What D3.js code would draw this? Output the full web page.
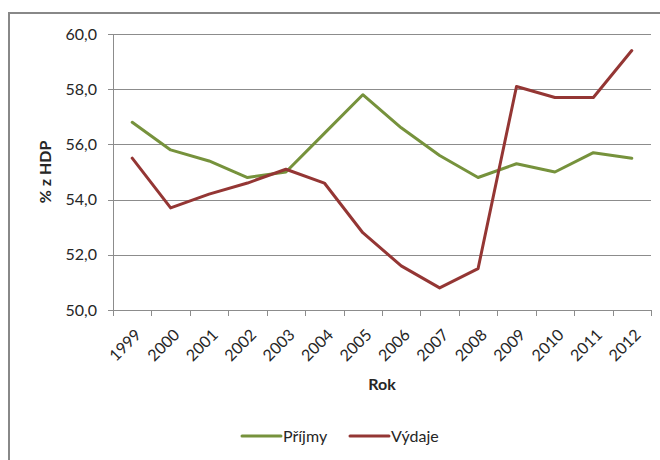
<!DOCTYPE html>
<html>
<head>
<meta charset="utf-8">
<script src="https://cdn.jsdelivr.net/npm/d3@7"></script>
<style>
  body { margin: 0; background: #fff; }
  svg { display: block; font-family: Lato, "Open Sans", sans-serif; }
</style>
</head>
<body>
<svg id="chart" width="660" height="460"></svg>
<script>
// --- Data ---
const years = ["1999", "2000", "2001", "2002", "2003", "2004", "2005", "2006", "2007", "2008", "2009", "2010", "2011", "2012"];
const prijmy = [56.8, 55.8, 55.4, 54.8, 55.0, 56.4, 57.8, 56.6, 55.6, 54.8, 55.3, 55.0, 55.7, 55.5];
const vydaje = [55.5, 53.7, 54.2, 54.6, 55.1, 54.6, 52.8, 51.6, 50.8, 51.5, 58.1, 57.7, 57.7, 59.4];
const yTicks = [50, 52, 54, 56, 58, 60];

const series = [
  { name: "Příjmy", values: prijmy, color: "#76923C" },
  { name: "Výdaje", values: vydaje, color: "#943634" }
];

// --- Setup SVG ---
const svg = d3.select("#chart");
const textColor = "#262626";
const gridColor = "#8c8c8c";

// chart border (right/bottom edges fall outside the picture)
svg.append("rect")
  .attr("x", 9).attr("y", 13)
  .attr("width", 700).attr("height", 500)
  .attr("fill", "none")
  .attr("stroke", "#888")
  .attr("stroke-width", 2);

const plot = { left: 113, right: 651, top: 34, bottom: 310 };

// --- Scales ---
const x = d3.scaleBand()
  .domain(years)
  .range([plot.left, plot.right])
  .padding(0);

const y = d3.scaleLinear()
  .domain([50, 60])
  .range([plot.bottom, plot.top]);

const fmt = v => d3.format(".1f")(v).replace(".", ",");

// --- Gridlines ---
svg.append("g")
  .selectAll("line")
  .data(yTicks)
  .join("line")
  .attr("x1", plot.left - 5)
  .attr("x2", plot.right)
  .attr("y1", d => Math.round(y(d)) + 0.5)
  .attr("y2", d => Math.round(y(d)) + 0.5)
  .attr("stroke", gridColor)
  .attr("stroke-width", 1);

// --- Y axis ---
svg.append("line")
  .attr("x1", plot.left + 0.5).attr("x2", plot.left + 0.5)
  .attr("y1", plot.top).attr("y2", plot.bottom)
  .attr("stroke", gridColor);

svg.append("g")
  .selectAll("text")
  .data(yTicks)
  .join("text")
  .attr("x", 97)
  .attr("y", d => y(d))
  .attr("dy", "0.35em")
  .attr("text-anchor", "end")
  .attr("font-size", 16)
  .attr("fill", textColor)
  .text(fmt);

// --- X axis ---
const xAxis = svg.append("g");
const tickPos = years.map(d => x(d)).concat([plot.right]);
xAxis.selectAll("line")
  .data(tickPos)
  .join("line")
  .attr("x1", d => Math.round(d) + 0.5)
  .attr("x2", d => Math.round(d) + 0.5)
  .attr("y1", plot.bottom)
  .attr("y2", plot.bottom + 6)
  .attr("stroke", gridColor);

xAxis.selectAll("text")
  .data(years)
  .join("text")
  .attr("transform", d => `translate(${x(d) + x.bandwidth() / 2 + 2},${plot.bottom + 18}) rotate(-45)`)
  .attr("text-anchor", "end")
  .attr("dy", "0.7em")
  .attr("font-size", 16)
  .attr("fill", textColor)
  .text(d => d);

// --- Axis titles ---
svg.append("text")
  .attr("transform", `translate(51,${(plot.top + plot.bottom) / 2}) rotate(-90)`)
  .attr("text-anchor", "middle")
  .attr("font-size", 16)
  .attr("font-weight", "bold")
  .attr("fill", textColor)
  .text("% z HDP");

svg.append("text")
  .attr("x", (plot.left + plot.right) / 2)
  .attr("y", 390)
  .attr("text-anchor", "middle")
  .attr("font-size", 16)
  .attr("font-weight", "bold")
  .attr("fill", textColor)
  .text("Rok");

// --- Lines ---
const line = d3.line()
  .x((d, i) => x(years[i]) + x.bandwidth() / 2)
  .y(d => y(d));

svg.append("g")
  .selectAll("path")
  .data(series)
  .join("path")
  .attr("d", d => line(d.values))
  .attr("fill", "none")
  .attr("stroke", d => d.color)
  .attr("stroke-width", 3)
  .attr("stroke-linejoin", "round")
  .attr("stroke-linecap", "round");

// --- Legend ---
const legendX = [242, 350];
const legend = svg.append("g")
  .selectAll("g")
  .data(series)
  .join("g")
  .attr("transform", (d, i) => `translate(${legendX[i]},436)`);

legend.append("line")
  .attr("x1", 0).attr("x2", 39)
  .attr("stroke", d => d.color)
  .attr("stroke-width", 3)
  .attr("stroke-linecap", "round");

legend.append("text")
  .attr("x", 41)
  .attr("dy", "0.35em")
  .attr("font-size", 16)
  .attr("fill", textColor)
  .text(d => d.name);
</script>
</body>
</html>
